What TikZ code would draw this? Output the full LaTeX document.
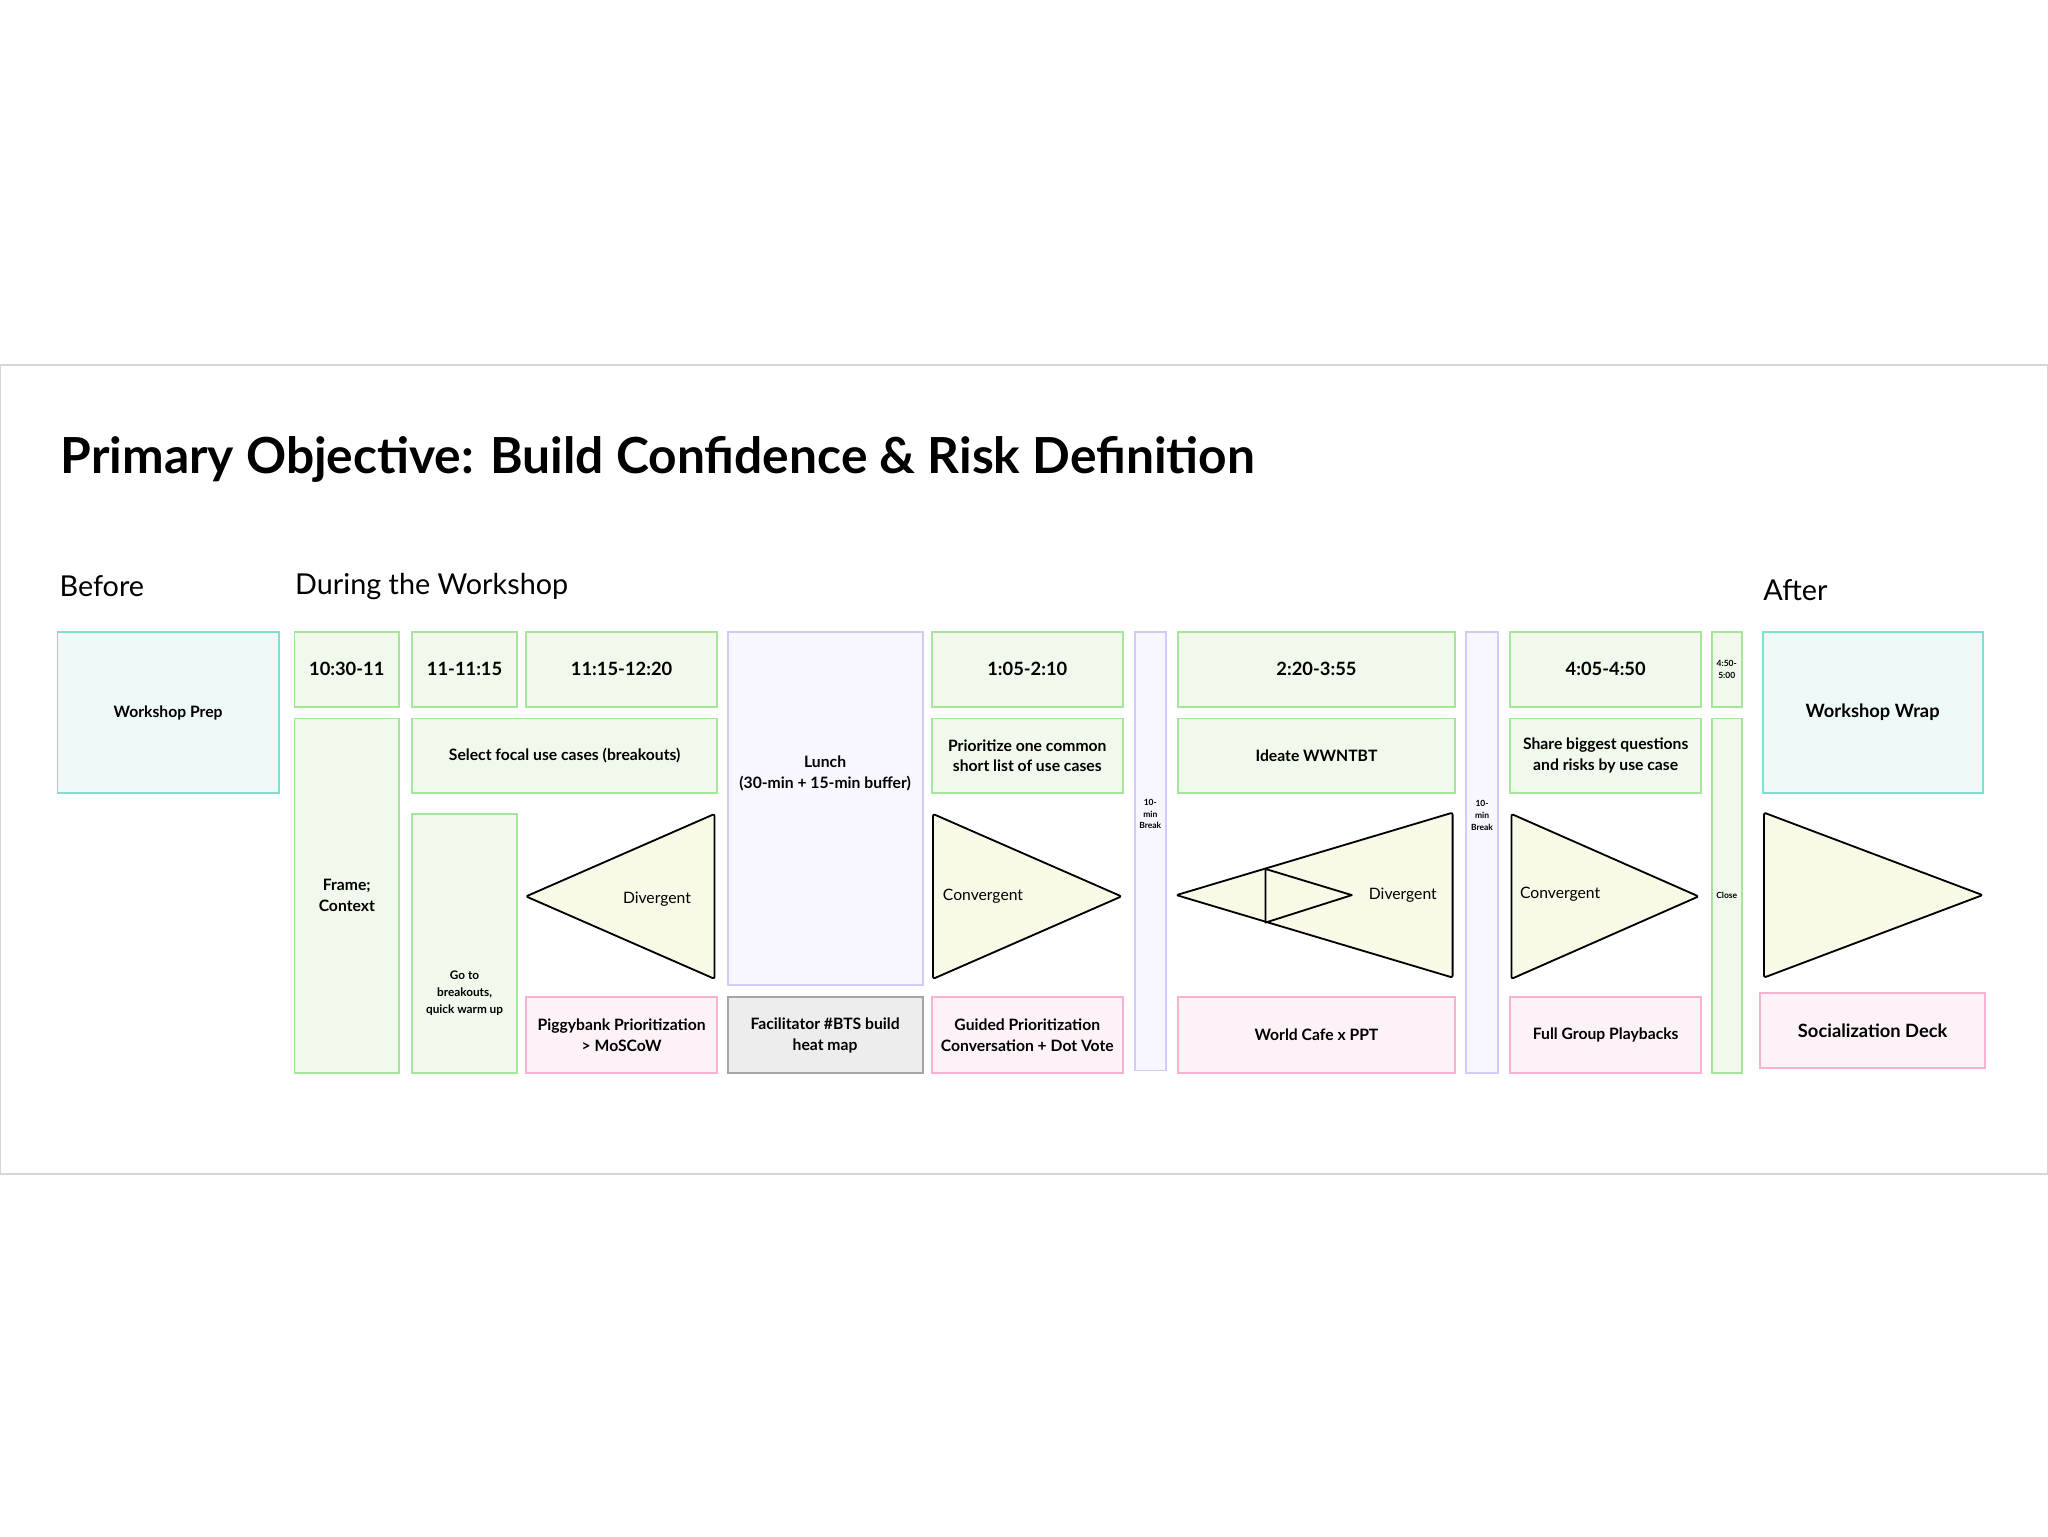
\documentclass[tikz,border=0pt]{standalone}
\usepackage{fontspec}
\setmainfont{Lato}
\usetikzlibrary{positioning}
\definecolor{grnline}{HTML}{A6E59C}
\definecolor{grnfill}{HTML}{F0F9EC}
\definecolor{pnkline}{HTML}{F6B2D2}
\definecolor{pnkfill}{HTML}{FDF2F8}
\definecolor{purline}{HTML}{D5CAF7}
\definecolor{purfill}{HTML}{F8F6FE}
\definecolor{tealline}{HTML}{7FE0D2}
\definecolor{tealfill}{HTML}{EEFAF8}
\definecolor{trifill}{HTML}{FAF8E6}
\definecolor{frameline}{HTML}{D6D6D6}
\tikzstyle{box}=[line width=1.4pt, inner sep=2pt, outer sep=0pt, align=center, font=\fontsize{12}{16}\selectfont\bfseries]
\tikzstyle{green box}=[box, draw=grnline, fill=grnfill]
\tikzstyle{pink box}=[box, draw=pnkline, fill=pnkfill]
\tikzstyle{purple box}=[box, draw=purline, fill=purfill]
\tikzstyle{teal box}=[box, draw=tealline, fill=tealfill]
\tikzstyle{gray box}=[box, draw=black!35, fill=black!7]
\tikzstyle{time}=[font=\fontsize{14}{16}\selectfont\bfseries]
\tikzstyle{tiny}=[font=\fontsize{6.5}{9}\selectfont\bfseries]
\tikzstyle{funnel}=[draw=black, line width=1.4pt, fill=trifill, rounded corners=1.5pt, line join=round]
\tikzstyle{heading}=[anchor=west, font=\fontsize{22}{26}\selectfont]
% block from two corners
\newcommand{\blk}[7]{%
  \node[#2, minimum width={(#5)-(#3)}, minimum height={(#6)-(#4)}] (#1) at ({((#3)+(#5))/2},{((#4)+(#6))/2}) {#7};}
\begin{document}
\begin{tikzpicture}[x=1pt,y=-1pt]
  \useasboundingbox (0,0) rectangle (1565,1174);
  \draw[frameline, fill=white, line width=1pt] (0,279) rectangle (1565,897);

  \node[anchor=west, font=\fontsize{38}{44}\selectfont\bfseries] (title) at (43,351) {Primary Objective: Build Confidence \& Risk Definition};
  \node[heading] (before) at (42,448) {Before};
  \node[heading] (during) at (222,448) {During the Workshop};
  \node[heading] (after) at (1344,451) {After};

  % before
  \blk{prep}{teal box}{44}{483}{213}{606}{Workshop Prep}

  % times
  \blk{t1}{green box, time}{225}{483}{305}{540}{10:30-11}
  \blk{t2}{green box, time}{315}{483}{395}{540}{11-11:15}
  \blk{t3}{green box, time}{402}{483}{548}{540}{11:15-12:20}
  \blk{t4}{green box, time}{712}{483}{858}{540}{1:05-2:10}
  \blk{t5}{green box, time}{900}{483}{1112}{540}{2:20-3:55}
  \blk{t6}{green box, time}{1154}{483}{1300}{540}{4:05-4:50}
  \blk{t7}{green box, tiny}{1308}{483}{1331}{540}{4:50-\\5:00}

  % activities
  \blk{frame}{green box}{225}{549}{305}{820}{Frame;\\Context}
  \blk{focal}{green box}{315}{549}{548}{606}{Select focal use cases (breakouts)}
  \blk{warm}{green box, font=\fontsize{9}{13}\selectfont\bfseries}{315}{622}{395}{820}{\\[70pt]Go to\\breakouts,\\quick warm up}
  \blk{lunch}{purple box}{556}{483}{705}{753}{Lunch\\(30-min + 15-min buffer)\\[40pt]}
  \blk{shortlist}{green box}{712}{549}{858}{606}{Prioritize one common\\short list of use cases}
  \blk{brk1}{purple box, tiny}{867}{483}{891}{818}{10-\\min\\Break\\[48pt]}
  \blk{ideate}{green box}{900}{549}{1112}{606}{Ideate WWNTBT}
  \blk{brk2}{purple box, tiny}{1120}{483}{1145}{820}{10-\\min\\Break\\[48pt]}
  \blk{share}{green box}{1154}{549}{1300}{606}{Share biggest questions\\and risks by use case}
  \blk{close}{green box, tiny}{1308}{549}{1331}{820}{Close}
  \blk{wrap}{teal box, font=\fontsize{14}{16}\selectfont\bfseries}{1347}{483}{1515}{606}{Workshop Wrap}

  % methods
  \blk{piggy}{pink box}{402}{762}{548}{820}{Piggybank Prioritization\\> MoSCoW}
  \blk{heat}{gray box}{556}{762}{705}{820}{Facilitator \#BTS build\\heat map}
  \blk{dot}{pink box}{712}{762}{858}{820}{Guided Prioritization\\Conversation + Dot Vote}
  \blk{cafe}{pink box}{900}{762}{1112}{820}{World Cafe x PPT}
  \blk{playback}{pink box}{1154}{762}{1300}{820}{Full Group Playbacks}
  \blk{deck}{pink box, font=\fontsize{14}{16}\selectfont\bfseries}{1345}{759}{1517}{816}{Socialization Deck}

  % funnels
  \draw[funnel] (402,685) -- (546,622) -- (546,748) -- cycle;
  \node[font=\fontsize{12}{14}\selectfont] (div1) at (502,687) {Divergent};
  \draw[funnel] (713,622) -- (857,685) -- (713,748) -- cycle;
  \node[anchor=west, font=\fontsize{12}{14}\selectfont] (conv1) at (717,685) {Convergent};
  \draw[funnel] (899,684) -- (1110,621) -- (1110,747) -- cycle;
  \draw[line width=1.4pt, line join=round] (967,664) -- (1033,684) -- (967,705) -- cycle;
  \node[font=\fontsize{12}{14}\selectfont] (div2) at (1072,684) {Divergent};
  \draw[funnel] (1155,622) -- (1298,685) -- (1155,748) -- cycle;
  \node[anchor=west, font=\fontsize{12}{14}\selectfont] (conv2) at (1158,683) {Convergent};
  \draw[funnel] (1348,621) -- (1515,684) -- (1348,747) -- cycle;
\end{tikzpicture}
\end{document}
